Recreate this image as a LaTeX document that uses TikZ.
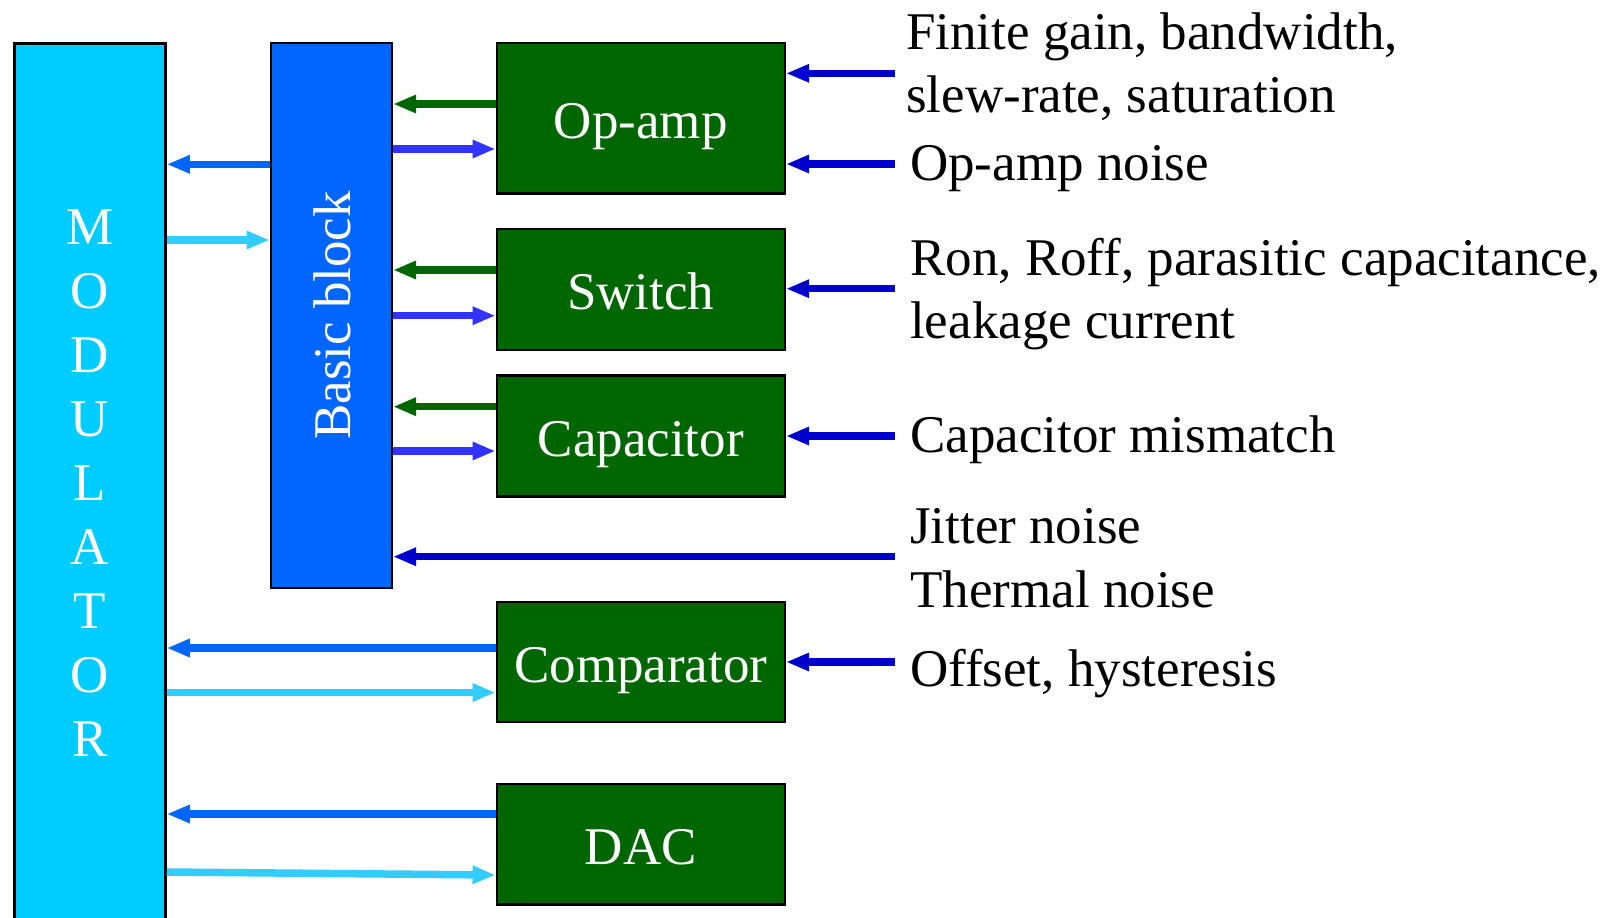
\documentclass[tikz,border=0pt]{standalone}
\usepackage{fontspec}
\setmainfont{Liberation Serif}
\usetikzlibrary{arrows.meta}
\definecolor{modc}{HTML}{00CCFF}
\definecolor{bbc}{HTML}{0066FF}
\definecolor{grn}{HTML}{006600}
\definecolor{blu}{HTML}{3333FF}
\definecolor{lblu}{HTML}{33CCFF}
\definecolor{dblu}{HTML}{0000CC}
\begin{document}
\begin{tikzpicture}[x=1pt,y=-1pt,
  box/.style={draw=black,line width=2.5pt,inner sep=0pt,text=white,font=\fontsize{53}{64}\selectfont},
  gbox/.style={box,fill=grn,minimum width=288pt,minimum height=121pt,text height=40pt,text depth=0pt},
  arr/.style={line width=7.5pt,-{Triangle[length=23pt,width=17pt]}},
  lbl/.style={anchor=base west,inner sep=0pt,font=\fontsize{53}{64}\selectfont}]
\useasboundingbox (0,0) rectangle (1623,918);
\clip (0,0) rectangle (1623,918);
% boxes
\node[box,fill=modc,minimum width=151pt,minimum height=879pt,align=center] (mod) at (90,483) {M\\O\\D\\U\\L\\A\\T\\O\\R};
\node[box,fill=bbc,minimum width=121pt,minimum height=545pt,text depth=0pt] (bb) at (331.3,315.5) {\hspace{2pt}\rotatebox{90}{Basic block}};
\node[gbox,minimum height=150.5pt] (opamp) at (640.8,118.2) {Op-amp};
\node[gbox] (switch) at (640.8,289.5) {Switch};
\node[gbox] (cap) at (640.8,436.2) {Capacitor};
\node[gbox,minimum height=120pt] (comp) at (640.8,662) {Comparator};
\node[gbox,minimum height=120.6pt] (dac) at (640.8,844.3) {DAC};
% labels
\node[lbl] (t1) at (906,49.5) {Finite gain, bandwidth,};
\node[lbl] (t2) at (906,112) {slew-rate, saturation};
\node[lbl] (t3) at (910,180) {Op-amp noise};
\node[lbl] (t4) at (910,275) {Ron, Roff, parasitic capacitance,};
\node[lbl] (t5) at (910,338.5) {leakage current};
\node[lbl] (t6) at (910,452) {Capacitor mismatch};
\node[lbl] (t7) at (910,543) {Jitter noise};
\node[lbl] (t8) at (910,607.5) {Thermal noise};
\node[lbl] (t9) at (910,686) {Offset, hysteresis};
% free ends
\coordinate (s1) at (895,73.3);
\coordinate (s2) at (895,164);
\coordinate (s3) at (895,288.7);
\coordinate (s4) at (895,436);
\coordinate (s5) at (895,556.7);
\coordinate (s6) at (895,662);
% basic block <-> components
\draw[arr,grn] (opamp.west |- 0,104) -- (bb.east |- 0,104);
\draw[arr,blu] (bb.east |- 0,149) -- (opamp.west |- 0,149);
\draw[arr,grn] (switch.west |- 0,270) -- (bb.east |- 0,270);
\draw[arr,blu] (bb.east |- 0,315.7) -- (switch.west |- 0,315.7);
\draw[arr,grn] (cap.west |- 0,406.7) -- (bb.east |- 0,406.7);
\draw[arr,blu] (bb.east |- 0,451) -- (cap.west |- 0,451);
% modulator links
\draw[arr,bbc] (bb.west |- 0,164.3) -- (mod.east |- 0,164.3);
\draw[arr,lblu] (mod.east |- 0,240) -- (bb.west |- 0,240);
\draw[arr,bbc] (comp.west |- 0,648) -- (mod.east |- 0,648);
\draw[arr,lblu] (mod.east |- 0,692.5) -- (comp.west |- 0,692.5);
\draw[arr,bbc] (dac.west |- 0,814) -- (mod.east |- 0,814);
\draw[arr,lblu] (mod.east |- 0,872) -- (dac.west |- 0,875);
% non-ideality inputs
\draw[arr,dblu] (s1) -- (opamp.east |- s1);
\draw[arr,dblu] (s2) -- (opamp.east |- s2);
\draw[arr,dblu] (s3) -- (switch.east |- s3);
\draw[arr,dblu] (s4) -- (cap.east |- s4);
\draw[arr,dblu] (s5) -- (bb.east |- s5);
\draw[arr,dblu] (s6) -- (comp.east |- s6);
\end{tikzpicture}
\end{document}
